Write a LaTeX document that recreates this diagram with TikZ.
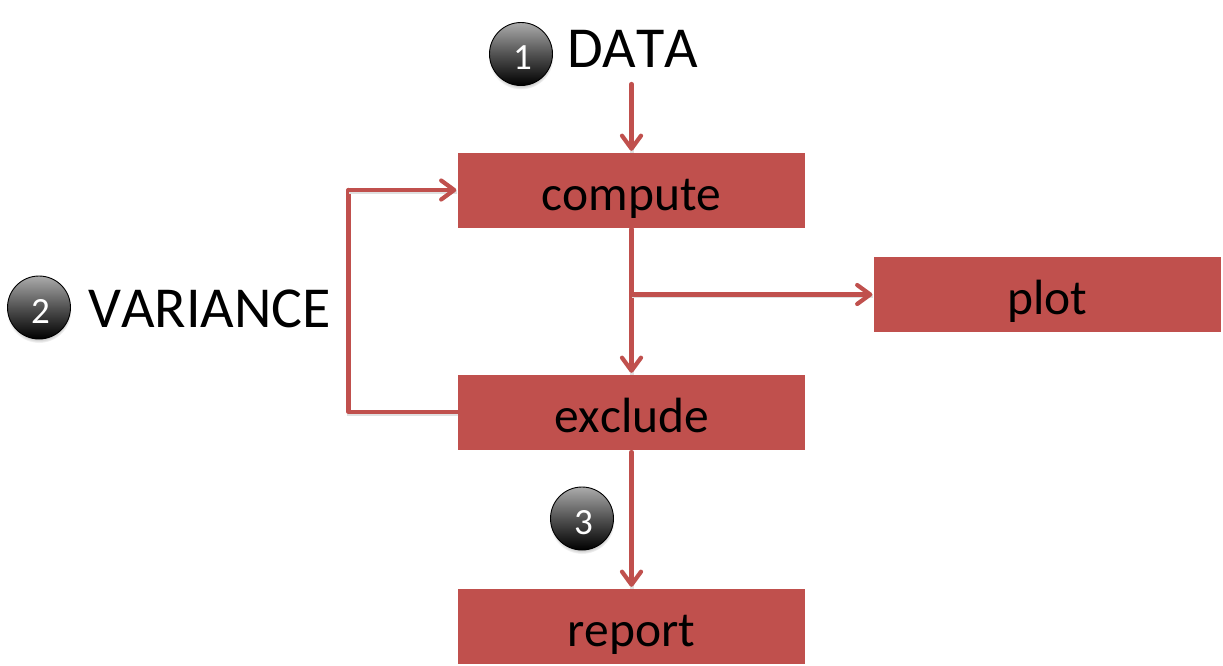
\documentclass[tikz,border=0pt]{standalone}
\usepackage{fontspec}
\setmainfont[Kerning=Off]{Carlito}
\usetikzlibrary{arrows.meta,shadows,calc}
\definecolor{boxred}{HTML}{C0504D}
\definecolor{ballTop}{HTML}{ABABAB}
\tikzset{
  stepbox/.style={fill=boxred,draw=none,minimum width=347pt,minimum height=75pt,inner sep=0pt,font=\fontsize{49.5}{50}\selectfont,text=black,text height=40pt,text depth=0pt},
  ball/.style={circle,minimum size=63pt,inner sep=0pt,draw=black,line width=0.9pt,top color=ballTop,bottom color=black,middle color=black!68,text=white,font=\fontsize{37}{37}\selectfont,text height=31pt,text depth=0pt,execute at begin node={\hspace*{3pt}},
    circular drop shadow={shadow xshift=0pt,shadow yshift=-3pt,shadow scale=1.03,fill=black,opacity=0.25}},
  biglabel/.style={inner sep=0pt,font=\fontsize{58}{58}\selectfont,text=black,anchor=base west},
  conn/.style={draw=boxred,line width=4.2pt,line cap=round,line join=round,
    preaction={draw=black!12,line width=4.2pt,transform canvas={xshift=0.6pt,yshift=-1.8pt},-}},
  arr/.style={conn,shorten >=1.5pt,-{Straight Barb[length=13pt,width=19pt,line width=4.2pt,round]}}
}
\begin{document}
\begin{tikzpicture}[x=1pt,y=-1pt]
\useasboundingbox (0,0) rectangle (1223,665);
\fill[white] (0,0) rectangle (1223,665);
\node[stepbox] (compute) at (631.5,190) {compute};
\node[stepbox] (plot) at (1047.5,294.5) {plot};
\node[stepbox] (exclude) at (631.5,412) {exclude};
\node[stepbox] (report) at (631.5,626) {report};
\node[ball] (b1) at (521,54) {1};
\node[ball] (b2) at (39,307.5) {2};
\node[ball] (b3) at (582,518.5) {3};
\node[biglabel] (data) at (567,67) {DATA};
\node[biglabel] (variance) at (88,327) {VARIANCE};
\coordinate (datafoot) at (631.5,84);
\coordinate (branch) at (631.5,294.5);
\coordinate (loopt) at (348.5,190);
\coordinate (loopb) at (348.5,412);
\coordinate (cout) at (631.5,229);
\coordinate (eout) at (631.5,452);
\draw[arr] (datafoot) -- (compute.north);
\draw[arr] (cout) -- (exclude.north);
\draw[arr] (branch) -- (plot.west);
\draw[conn] (exclude.west) -- (loopb) -- (loopt);
\draw[arr] (loopt) -- (compute.west);
\draw[arr] (eout) -- (report.north);
\end{tikzpicture}
\end{document}
